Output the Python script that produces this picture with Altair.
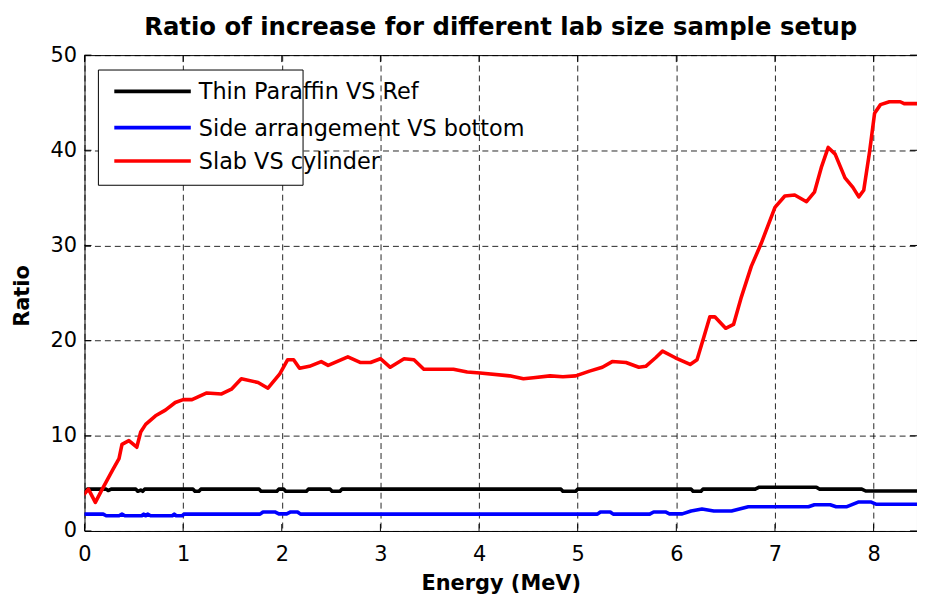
import altair as alt
import pandas as pd

# ---------------- data ----------------
series_names = ["Thin Paraffin VS Ref", "Side arrangement VS bottom", "Slab VS cylinder"]
series_colors = ["#000000", "#0000ff", "#ff0000"]

thin_E = [0.0, 0.03, 0.22, 0.24, 0.27, 0.52, 0.54, 0.57, 0.59, 0.61, 1.10, 1.12, 1.16, 1.18,
          1.77, 1.79, 1.95, 1.97, 2.02, 2.04, 2.25, 2.27, 2.49, 2.51, 2.59, 2.61,
          4.83, 4.85, 4.98, 5.00, 6.15, 6.17, 6.25, 6.27, 6.80, 6.84, 7.42, 7.45,
          7.88, 7.92, 8.44]
thin_R = [4.1, 4.4, 4.4, 4.25, 4.4, 4.4, 4.17, 4.3, 4.17, 4.4, 4.4, 4.17, 4.17, 4.4,
          4.4, 4.17, 4.17, 4.4, 4.4, 4.17, 4.17, 4.4, 4.4, 4.17, 4.17, 4.4,
          4.4, 4.17, 4.17, 4.4, 4.4, 4.17, 4.17, 4.4, 4.4, 4.6, 4.6, 4.4,
          4.4, 4.2, 4.2]

side_E = [0.0, 0.19, 0.22, 0.35, 0.38, 0.41, 0.58, 0.60, 0.62, 0.64, 0.67, 0.89, 0.91, 0.93,
          0.99, 1.01, 1.78, 1.81, 1.93, 1.97, 2.05, 2.09, 2.16, 2.19, 5.20, 5.23, 5.33,
          5.36, 5.73, 5.77, 5.89, 5.93, 6.06, 6.15, 6.26, 6.38, 6.56, 6.73, 7.34, 7.40,
          7.56, 7.62, 7.73, 7.85, 7.97, 8.03, 8.44]
side_R = [1.77, 1.77, 1.6, 1.6, 1.77, 1.6, 1.6, 1.77, 1.6, 1.77, 1.6, 1.6, 1.77, 1.6,
          1.6, 1.77, 1.77, 2.0, 2.0, 1.8, 1.8, 2.0, 2.0, 1.77, 1.77, 2.0, 2.0,
          1.77, 1.77, 2.0, 2.0, 1.8, 1.8, 2.1, 2.3, 2.1, 2.1, 2.55, 2.55, 2.75,
          2.75, 2.55, 2.55, 3.05, 3.05, 2.8, 2.8]

slab_E = [0.0, 0.04, 0.11, 0.18, 0.29, 0.35, 0.38, 0.45, 0.53, 0.57, 0.62, 0.72, 0.82, 0.92,
          1.00, 1.09, 1.24, 1.39, 1.49, 1.59, 1.76, 1.86, 1.98, 2.06, 2.12, 2.18, 2.28,
          2.40, 2.47, 2.67, 2.80, 2.90, 3.00, 3.10, 3.24, 3.34, 3.44, 3.74, 3.88, 4.01,
          4.31, 4.45, 4.55, 4.72, 4.85, 4.98, 5.12, 5.25, 5.35, 5.49, 5.62, 5.69, 5.79,
          5.86, 5.99, 6.14, 6.21, 6.28, 6.34, 6.39, 6.50, 6.58, 6.66, 6.76, 6.86, 7.00,
          7.10, 7.20, 7.32, 7.40, 7.47, 7.54, 7.61, 7.71, 7.79, 7.85, 7.90, 7.96, 8.01,
          8.07, 8.16, 8.27, 8.31, 8.44]
slab_R = [3.9, 4.4, 3.0, 4.4, 6.5, 7.6, 9.1, 9.5, 8.8, 10.4, 11.2, 12.1, 12.7, 13.5,
          13.8, 13.8, 14.5, 14.4, 14.9, 16.0, 15.6, 15.0, 16.5, 18.0, 18.0, 17.1, 17.3,
          17.8, 17.4, 18.3, 17.7, 17.7, 18.1, 17.2, 18.1, 18.0, 17.0, 17.0, 16.7, 16.6,
          16.3, 16.0, 16.1, 16.3, 16.2, 16.3, 16.8, 17.2, 17.8, 17.7, 17.2, 17.3, 18.2,
          18.9, 18.2, 17.5, 18.0, 20.4, 22.5, 22.5, 21.3, 21.7, 24.6, 27.8, 30.2, 34.0,
          35.2, 35.3, 34.6, 35.6, 38.2, 40.3, 39.6, 37.1, 36.1, 35.1, 35.8, 39.9, 43.9,
          44.8, 45.1, 45.1, 44.9, 44.9]

x_ticks = [0, 1, 2, 3, 4, 5, 6, 7, 8]
y_ticks = [0, 10, 20, 30, 40, 50]

title_text = "Ratio of increase for different lab size sample setup"
x_title = "Energy (MeV)"
y_title = "Ratio"

# ---------------- styling ----------------
W, H = 838, 479
FONT = "DejaVu Sans"
TICK_LEN = 7
LW = 3.6

xs = alt.Scale(domain=[0, 8.44], nice=False, zero=False)
ys = alt.Scale(domain=[0, 50], nice=False, zero=False)

x_axis = alt.Axis(values=x_ticks, grid=True, gridDash=[6, 4], gridColor="black",
                  gridOpacity=0.85, ticks=False, tickSize=0, domain=False,
                  labelFont=FONT, labelFontSize=21, labelColor="black",
                  labelBaseline="alphabetic", labelPadding=29.6, labelFlush=False,
                  titleFont=FONT, titleFontSize=21, titleFontWeight="bold",
                  titleColor="black", titleBaseline="alphabetic", titleY=59)
y_axis = alt.Axis(values=y_ticks, grid=True, gridDash=[6, 4], gridColor="black",
                  gridOpacity=0.85, ticks=False, tickSize=0, domain=False,
                  labelFont=FONT, labelFontSize=21, labelColor="black",
                  labelPadding=8, labelFlush=False,
                  titleFont=FONT, titleFontSize=21, titleFontWeight="bold",
                  titleColor="black", titleAngle=270, titleBaseline="alphabetic",
                  titleAlign="center", titleX=-56, titleY=242)


def X(field):
    return alt.X(f"{field}:Q", scale=xs, axis=x_axis, title=x_title)


def Y(field):
    return alt.Y(f"{field}:Q", scale=ys, axis=y_axis, title=y_title)


layers = []

# inward ticks on all four sides
xt = pd.DataFrame({"Energy": x_ticks})
yt = pd.DataFrame({"Ratio": y_ticks})
layers.append(alt.Chart(xt).mark_rule(color="black", strokeWidth=1).encode(
    x=X("Energy"), y=alt.value(H), y2=alt.value(H - TICK_LEN)))
layers.append(alt.Chart(xt).mark_rule(color="black", strokeWidth=1).encode(
    x=X("Energy"), y=alt.value(0), y2=alt.value(TICK_LEN)))
layers.append(alt.Chart(yt).mark_rule(color="black", strokeWidth=1).encode(
    y=Y("Ratio"), x=alt.value(0), x2=alt.value(TICK_LEN)))
layers.append(alt.Chart(yt).mark_rule(color="black", strokeWidth=1).encode(
    y=Y("Ratio"), x=alt.value(W), x2=alt.value(W - TICK_LEN)))

# data lines
for E, R, name, col in [(thin_E, thin_R, series_names[0], series_colors[0]),
                        (side_E, side_R, series_names[1], series_colors[1]),
                        (slab_E, slab_R, series_names[2], series_colors[2])]:
    df = pd.DataFrame({"Energy": E, "Ratio": R, "Series": name})
    layers.append(alt.Chart(df).mark_line(color=col, strokeWidth=LW, clip=True,
                                          strokeJoin="round", strokeCap="round").encode(
        x=X("Energy"), y=Y("Ratio")))

# legend (drawn manually to mimic the MATLAB legend box)
one = pd.DataFrame({"k": [0]})
layers.append(alt.Chart(one).mark_rect(fill="white", stroke="black", strokeWidth=1).encode(
    x=alt.value(14), x2=alt.value(220), y=alt.value(15), y2=alt.value(131)))
row_y = [36.5, 73, 106.5]
for i, (name, col) in enumerate(zip(series_names, series_colors)):
    layers.append(alt.Chart(one).mark_rule(color=col, strokeWidth=LW).encode(
        x=alt.value(30), x2=alt.value(107), y=alt.value(row_y[i])))
    layers.append(alt.Chart(one).mark_text(align="left", baseline="middle", font=FONT,
                                           fontSize=22.5, color="black").encode(
        x=alt.value(115), y=alt.value(row_y[i] + 1), text=alt.value(name)))

# chart title, placed as text above the plot area
layers.append(alt.Chart(one).mark_text(align="center", baseline="alphabetic", font=FONT,
                                       fontSize=24.5, fontWeight="bold", color="black").encode(
    x=alt.value(W / 2), y=alt.value(-20.5), text=alt.value(title_text)))

chart = alt.layer(*layers).properties(
    width=W, height=H,
    autosize=alt.AutoSizeParams(type="none"),
    padding={"left": 77, "top": 45.5, "right": 0, "bottom": 62},
).configure_view(stroke="black", strokeWidth=1)

chart.save("out.html", embed_options={"renderer": "svg", "actions": False})
